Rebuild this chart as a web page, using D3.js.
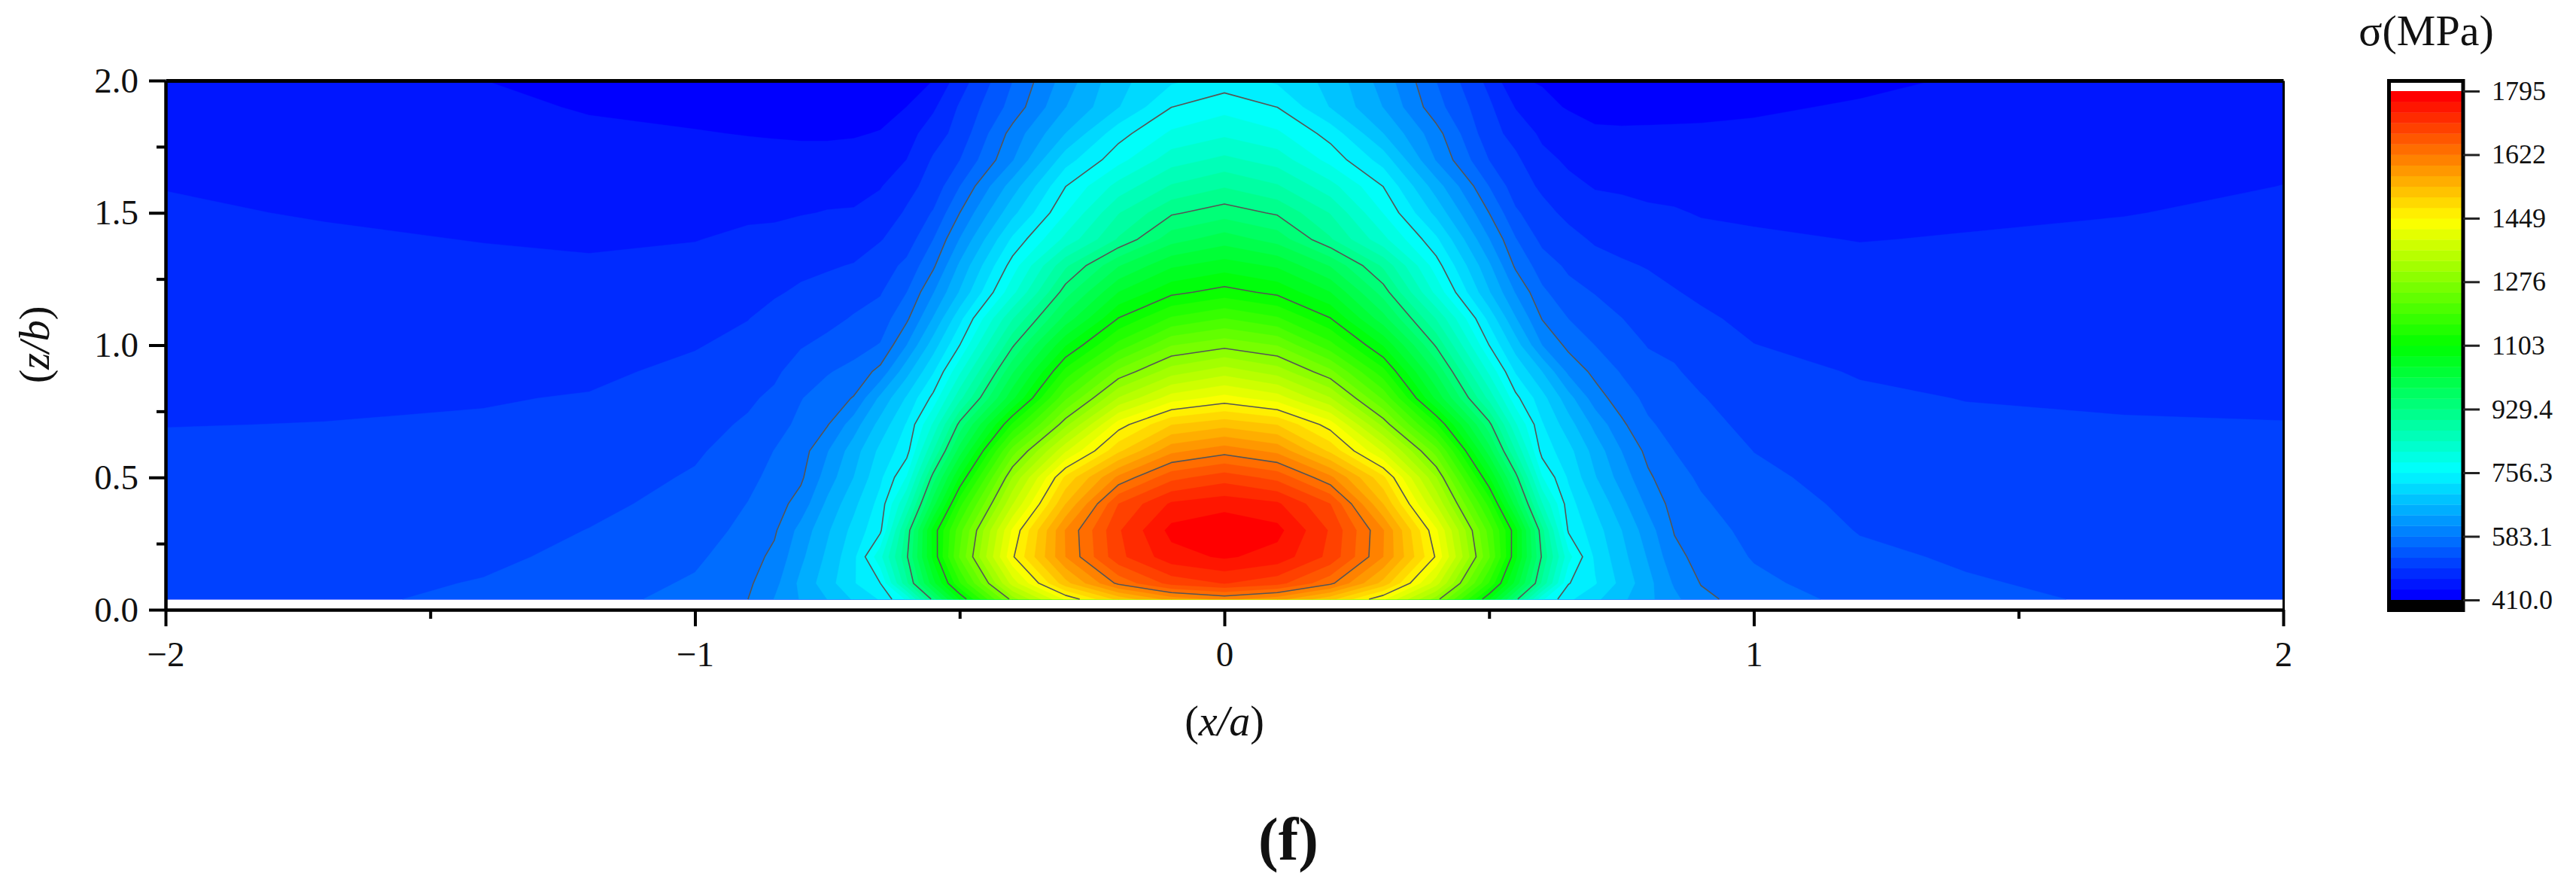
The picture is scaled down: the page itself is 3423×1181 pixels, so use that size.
<!DOCTYPE html>
<html><head><meta charset="utf-8">
<script src="https://cdn.jsdelivr.net/npm/d3@7/dist/d3.min.js"></script>
<style>html,body{margin:0;padding:0;background:#fff}svg{display:block}text{font-family:"Liberation Serif",serif;fill:#111}</style>
</head><body><div id="chart"></div>
<script>
// Sample positions and stress values (MPa).
// Each column of sigmaColumns is one x/a position; its entries run up through zGrid.
const zGrid=[0.04,0.1,0.2,0.3,0.4,0.5,0.6,0.7,0.8,0.9,1,1.1,1.2,1.3,1.4,1.5,1.6,1.7,1.8,1.9,2];
const xGrid=[-2,-1.7,-1.4,-1.2,-1,-0.9,-0.85,-0.8,-0.75,-0.7,-0.65,-0.6,-0.55,-0.5,-0.4,-0.3,-0.2,-0.1,0,0.1,0.2,0.3,0.4,0.5,0.55,0.6,0.65,0.7,0.75,0.8,0.85,0.9,1,1.2,1.4,1.7,2];
const sigmaColumns=[
[515,512,510,508,505,503,501,496,493,490,487,484,480,477,474,471,467,463,459,455,450],
[520,517,513,510,507,503,500,497,493,490,486,483,479,475,471,466,460,456,453,449,445],
[531,527,520,515,510,506,503,499,495,490,486,481,476,472,467,462,457,453,448,444,439],
[543,539,532,526,520,514,508,503,498,492,487,482,476,471,464,459,454,448,443,437,432],
[565,558,549,541,533,528,522,516,509,502,495,488,481,474,467,460,453,447,440,433,426],
[583,578,571,562,555,547,537,529,521,511,503,496,488,480,472,464,455,446,438,430,422],
[613,603,590,579,570,562,555,543,531,520,511,504,494,484,474,464,455,446,437,429,421],
[643,648,634,622,595,578,570,561,553,539,523,511,500,491,482,466,456,446,436,430,420],
[670,686,676,665,647,625,610,581,567,552,533,517,505,494,481,469,458,446,436,428,420],
[702,725,720,708,691,670,656,627,585,563,543,528,514,498,485,470,459,447,437,428,420],
[730,756,805,750,738,721,706,680,647,592,556,538,523,510,495,480,466,452,440,431,422],
[790,894,925,910,845,787,745,730,702,660,612,578,554,533,510,500,488,468,456,439,430],
[942,1034,1081,1084,1003,942,871,818,765,724,684,643,610,578,554,528,507,500,483,463,439],
[1076,1157,1221,1206,1150,1076,1001,939,862,808,756,718,672,646,613,583,554,525,507,500,482],
[1290,1375,1445,1425,1360,1306,1232,1136,1037,983,925,870,805,770,733,690,655,610,594,565,554],
[1425,1525,1593,1595,1535,1484,1387,1295,1212,1141,1071,998,945,895,822,784,756,715,670,640,625],
[1515,1630,1700,1705,1680,1600,1500,1435,1335,1255,1170,1105,1045,985,904,870,825,775,745,697,690],
[1575,1690,1755,1775,1742,1670,1585,1505,1405,1320,1245,1165,1095,1040,975,925,875,830,790,756,722],
[1600,1710,1770,1790,1755,1695,1610,1525,1430,1349,1266,1190,1115,1059,1002,945,898,850,808,775,740],
[1575,1690,1755,1775,1742,1670,1585,1505,1405,1320,1245,1165,1095,1040,975,925,875,830,790,756,722],
[1515,1630,1700,1705,1680,1600,1500,1435,1335,1255,1170,1105,1045,985,904,870,825,775,745,697,690],
[1425,1525,1593,1595,1535,1484,1387,1295,1212,1141,1071,998,945,895,822,784,756,715,670,640,628],
[1290,1375,1445,1425,1360,1306,1232,1136,1037,983,925,870,805,770,733,690,655,610,594,565,554],
[1076,1157,1221,1206,1150,1076,1001,939,862,808,756,718,672,646,613,583,554,525,507,502,488],
[942,1034,1081,1084,1003,942,871,818,765,724,684,643,610,578,556,530,510,502,487,466,441],
[790,894,925,910,845,787,745,730,709,670,612,582,560,540,518,505,492,476,462,445,437],
[733,758,795,752,740,723,708,682,652,605,575,554,535,520,505,490,475,463,450,437,428],
[705,730,722,712,695,672,658,632,597,575,554,539,524,507,493,479,466,455,443,431,423],
[676,690,680,670,650,628,612,589,568,552,539,526,513,500,488,476,464,452,442,431,422],
[648,650,638,625,605,588,575,558,547,535,524,514,505,495,484,472,461,450,442,432,422],
[619,608,592,581,572,564,554,545,536,528,520,509,498,489,479,470,460,451,442,433,425],
[590,582,573,566,558,550,543,534,527,518,510,501,492,484,475,466,458,450,442,434,427],
[570,561,552,546,539,532,525,518,511,504,497,490,484,477,471,464,457,450,443,436,429],
[545,539,531,524,519,514,509,505,500,495,487,482,478,473,467,461,456,451,446,441,434],
[533,528,522,517,513,509,505,500,496,491,486,482,477,473,469,464,459,455,450,446,441],
[521,518,514,511,508,505,502,498,494,490,487,483,479,475,472,467,461,456,452,449,446],
[516,514,511,509,506,504,502,497,494,491,487,484,480,478,476,472,468,464,459,455,452]
];
const colorTicks=[410,583.1,756.3,929.4,1103,1276,1449,1622,1795];
const colorTickLabels=["410.0","583.1","756.3","929.4","1103","1276","1449","1622","1795"];
const lineLevels=[583.1,756.3,929.4,1103,1276,1449,1622];
const xTicks=[-2,-1,0,1,2], xMinor=[-1.5,-0.5,0.5,1.5];
const zTicks=[0,0.5,1,1.5,2], zMinor=[0.25,0.75,1.25,1.75];
const bandCount=48, sigmaMin=410, sigmaMax=1795;

const W=3423,H=1181;
const svg=d3.select("#chart").append("svg").attr("width",W).attr("height",H).attr("viewBox",`0 0 ${W} ${H}`);
svg.append("rect").attr("width",W).attr("height",H).attr("fill","#fff");

const x=d3.scaleLinear().domain([-2,2]).range([220,3034]);
const z=d3.scaleLinear().domain([0,2]).range([810,107]);
const rainbow=d3.scaleLinear().domain([0,.25,.5,.75,1]).range(["#0000ff","#00ffff","#00ff00","#ffff00","#ff0000"]);
const bandWidth=(sigmaMax-sigmaMin)/bandCount;
const bandEdges=d3.range(bandCount).map(i=>sigmaMin+i*bandWidth);
const bandColor=i=>rainbow(i/(bandCount-1));

const nx=xGrid.length,nz=zGrid.length;
const xFromIdx=d3.scaleLinear().domain(xGrid.map((_,i)=>i+.5)).range(xGrid).clamp(true);
const zFromIdx=d3.scaleLinear().domain(zGrid.map((_,i)=>i+.5)).range(zGrid).clamp(true);
const px=p=>[x(xFromIdx(p[0])),z(zFromIdx(p[1]))];
const flat=zGrid.flatMap((_,j)=>sigmaColumns.map(c=>c[j]));
const contours=d3.contours().size([nx,nz]);

const ringPath=r=>"M"+r.map(p=>px(p).map(v=>v.toFixed(2)).join(",")).join("L")+"Z";
const fillPath=g=>g.coordinates.map(poly=>poly.map(ringPath).join("")).join("");

const plot=svg.append("g");
plot.selectAll("path.band").data(bandEdges.map((t,i)=>({i,geom:contours.contour(flat,i===0?0:t)})))
  .join("path").attr("class","band").attr("d",d=>fillPath(d.geom))
  .attr("fill",d=>bandColor(d.i)).attr("fill-rule","evenodd")
  .attr("stroke",d=>bandColor(d.i)).attr("stroke-width",.4);

// Contour lines: leave out the pieces that run along the plot edges
const [x0,x1]=x.range(), [zb,zt]=[z(zGrid[0]),z(2)];
const onEdge=(a,b)=>(Math.abs(a[0]-x0)<.01&&Math.abs(b[0]-x0)<.01)||(Math.abs(a[0]-x1)<.01&&Math.abs(b[0]-x1)<.01)||
  (Math.abs(a[1]-zb)<.01&&Math.abs(b[1]-zb)<.01)||(Math.abs(a[1]-zt)<.01&&Math.abs(b[1]-zt)<.01);
const linePath=g=>{let s="";g.coordinates.forEach(poly=>poly.forEach(r=>{const pts=r.map(px);let pen=false;
  for(let i=1;i<pts.length;i++){const a=pts[i-1],b=pts[i];
    if(onEdge(a,b)){pen=false;continue;}
    if(!pen){s+=`M${a[0].toFixed(2)},${a[1].toFixed(2)}`;pen=true;}
    s+=`L${b[0].toFixed(2)},${b[1].toFixed(2)}`;}}));return s;};
plot.selectAll("path.iso").data(lineLevels).join("path").attr("class","iso")
  .attr("d",t=>linePath(contours.contour(flat,t))).attr("fill","none")
  .attr("stroke","#555").attr("stroke-width",1.6).attr("stroke-linejoin","round");

const sty=(g,w)=>{g.selectAll("path.domain").attr("stroke","#000").attr("stroke-width",w);
  g.selectAll(".tick line").attr("stroke","#000").attr("stroke-width",w);
  g.selectAll(".tick text").attr("fill","#111").attr("font-family","Liberation Serif").attr("font-size",47);};
const fmtX=d=>d<0?"\u2212"+Math.abs(d):String(d);

const gx=svg.append("g").attr("transform",`translate(0,${z(0)})`);
gx.call(d3.axisBottom(x).tickValues(xTicks).tickSize(22).tickPadding(20).tickFormat(fmtX).tickSizeOuter(0));
sty(gx,4);
const gxm=svg.append("g").attr("transform",`translate(0,${z(0)})`);
gxm.call(d3.axisBottom(x).tickValues(xMinor).tickSize(12).tickFormat("").tickSizeOuter(0));
sty(gxm,4);
const gz=svg.append("g").attr("transform",`translate(${x(-2)},0)`);
gz.call(d3.axisLeft(z).tickValues(zTicks).tickSize(22).tickPadding(14).tickFormat(d3.format(".1f")).tickSizeOuter(0));
sty(gz,4);
const gzm=svg.append("g").attr("transform",`translate(${x(-2)},0)`);
gzm.call(d3.axisLeft(z).tickValues(zMinor).tickSize(12).tickFormat("").tickSizeOuter(0));
sty(gzm,4);
const gt=svg.append("g").attr("transform",`translate(0,${z(2)})`);
gt.call(d3.axisTop(x).tickValues([]).tickSizeOuter(0)); sty(gt,5);
const gr=svg.append("g").attr("transform",`translate(${x(2)},0)`);
gr.call(d3.axisRight(z).tickValues([]).tickSizeOuter(0)); sty(gr,3);

// Axis titles
svg.append("text").attr("x",x(0)).attr("y",977).attr("text-anchor","middle").attr("font-size",56)
  .html('(<tspan font-style="italic">x/a</tspan>)');
svg.append("text").attr("transform","translate(65,458) rotate(-90)").attr("text-anchor","middle").attr("font-size",56)
  .html('(<tspan font-style="italic">z/b</tspan>)');
svg.append("text").attr("x",1712).attr("y",1142).attr("text-anchor","middle").attr("font-size",80).attr("font-weight","bold").text("(f)");

// Colour bar
const cb=d3.scaleLinear().domain([sigmaMin,sigmaMax]).range([797,121]);
const cbx0=3174.5,cbx1=3273;
const cbar=svg.append("g");
cbar.append("rect").attr("x",cbx0).attr("y",107.5).attr("width",cbx1-cbx0).attr("height",703).attr("fill","#fff");
cbar.selectAll("rect.b").data(bandEdges).join("rect").attr("class","b")
  .attr("x",cbx0).attr("width",cbx1-cbx0).attr("y",d=>cb(d+bandWidth)).attr("height",cb(sigmaMin)-cb(sigmaMin+bandWidth)+.4)
  .attr("fill",(d,i)=>bandColor(i));
cbar.append("rect").attr("x",cbx0).attr("y",cb(sigmaMin)).attr("width",cbx1-cbx0).attr("height",811-cb(sigmaMin)).attr("fill","#000");
cbar.append("rect").attr("x",cbx0).attr("y",107.5).attr("width",cbx1-cbx0).attr("height",703).attr("fill","none").attr("stroke","#000").attr("stroke-width",5);
const gc=svg.append("g").attr("transform",`translate(${cbx1},0)`);
gc.call(d3.axisRight(cb).tickValues(colorTicks).tickSize(22).tickPadding(16).tickSizeOuter(0)
  .tickFormat((d,i)=>colorTickLabels[i]));
gc.select("path.domain").remove();
gc.selectAll(".tick line").attr("stroke","#222").attr("stroke-width",3);
gc.selectAll(".tick text").attr("fill","#111").attr("font-family","Liberation Serif").attr("font-size",36);
svg.append("text").attr("x",3224).attr("y",60).attr("text-anchor","middle").attr("font-size",58).text("σ(MPa)");
</script></body></html>
